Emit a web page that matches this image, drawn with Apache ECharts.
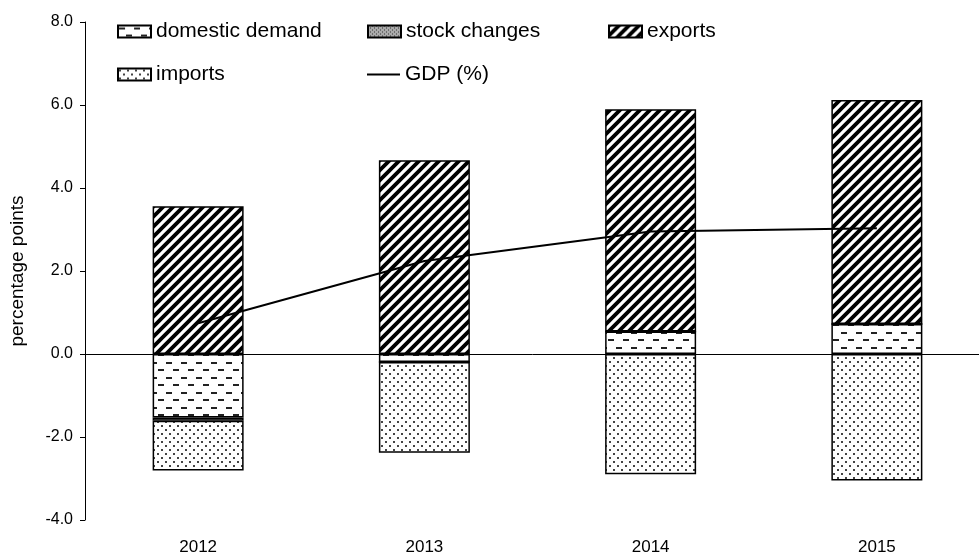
<!DOCTYPE html>
<html>
<head>
<meta charset="utf-8">
<script src="https://cdn.jsdelivr.net/npm/echarts@6/dist/echarts.min.js"></script>
<style>
  html, body { margin: 0; padding: 0; background: #fff; }
  #main { width: 979px; height: 560px; }
</style>
</head>
<body>
<div id="main"></div>
<script>
// 数据
const years = ['2012', '2013', '2014', '2015']
const domesticDemand = [-1.53, -0.19, 0.54, 0.72]
const stockChanges = [-0.08, 0, 0, 0]
const exportsData = [3.56, 4.67, 5.36, 5.40]
const importsData = [-1.20, -2.19, -2.90, -3.05]
const gdp = [0.74, 2.24, 2.95, 3.03]

// 填充纹理
function makePattern(w, h, draw) {
    const c = document.createElement('canvas')
    c.width = w
    c.height = h
    const ctx = c.getContext('2d')
    ctx.fillStyle = '#fff'
    ctx.fillRect(0, 0, w, h)
    draw(ctx, w, h)
    return { image: c, repeat: 'repeat' }
}

// 斜线 (exports)
const stripes = makePattern(10, 10, function (ctx, s) {
    ctx.strokeStyle = '#000'
    ctx.lineWidth = 3.8
    ctx.beginPath()
    ctx.moveTo(-2, 2); ctx.lineTo(2, -2)
    ctx.moveTo(0, s); ctx.lineTo(s, 0)
    ctx.moveTo(s - 2, s + 2); ctx.lineTo(s + 2, s - 2)
    ctx.stroke()
})
// 短横线 (domestic demand)
const dashes = makePattern(15, 15, function (ctx) {
    ctx.fillStyle = '#222'
    ctx.fillRect(1, 2, 6, 2)
    ctx.fillRect(8, 9, 6, 2)
})
// 点 (imports)
const dots = makePattern(8, 8, function (ctx) {
    ctx.fillStyle = '#444'
    ctx.fillRect(1, 1, 2, 2)
    ctx.fillRect(5, 5, 2, 2)
})
// 密点 (stock changes)
const dense = makePattern(4, 4, function (ctx) {
    ctx.fillStyle = '#aaa'
    ctx.fillRect(0, 0, 4, 4)
    ctx.fillStyle = '#333'
    ctx.fillRect(0, 0, 1, 1)
    ctx.fillRect(2, 2, 1, 1)
})

const font = "'Liberation Sans', Arial, sans-serif"
const legendText = { color: '#000', fontSize: 21, fontFamily: font }

function legendAt(name, left, top, h) {
    return {
        data: [name], left: left, top: top,
        icon: 'rect', itemWidth: 33, itemHeight: h || 12, itemGap: 5,
        selectedMode: false, textStyle: legendText
    }
}

function barSeries(name, data, pattern) {
    return {
        name: name, type: 'bar', stack: 'total', data: data,
        barWidth: 91, xAxisIndex: 0,
        itemStyle: { color: pattern, borderColor: '#000', borderWidth: 1.5 },
        emphasis: { disabled: true }
    }
}

let myChart = echarts.init(document.getElementById('main'))
let option = {
    animation: false,
    backgroundColor: '#fff',
    legend: [
        legendAt('domestic demand', 112, 16),
        legendAt('stock changes', 362, 16),
        legendAt('exports', 603, 16),
        legendAt('imports', 112, 59),
        legendAt('GDP (%)', 362, 59, 2)
    ],
    grid: { left: 85, top: 22, width: 905, height: 498, outerBoundsMode: 'none', containLabel: false },
    xAxis: [{
        type: 'category',
        data: years,
        axisLine: { onZero: true, lineStyle: { color: '#000', width: 1 } },
        axisTick: { show: false },
        axisLabel: { show: false }
    }, {
        type: 'category',
        data: years,
        position: 'bottom',
        axisLine: { show: false, onZero: false },
        axisTick: { show: false },
        axisLabel: { color: '#000', fontSize: 17, fontFamily: font, margin: 19 }
    }],
    yAxis: {
        type: 'value',
        min: -4,
        max: 8,
        interval: 2,
        name: 'percentage points',
        nameLocation: 'middle',
        nameGap: 58,
        nameRotate: 90,
        nameTextStyle: { color: '#000', fontSize: 19, fontFamily: font },
        axisLine: { show: true, lineStyle: { color: '#000', width: 1 } },
        axisTick: { show: true, length: 5, lineStyle: { color: '#000' } },
        axisLabel: {
            color: '#000', fontSize: 16, fontFamily: font, margin: 12,
            formatter: function (v) { return v.toFixed(1) }
        },
        splitLine: { show: false }
    },
    series: [
        barSeries('domestic demand', domesticDemand, dashes),
        barSeries('stock changes', stockChanges, dense),
        barSeries('exports', exportsData, stripes),
        barSeries('imports', importsData, dots),
        {
            name: 'GDP (%)', type: 'line', data: gdp, xAxisIndex: 0,
            symbol: 'none', z: 5,
            lineStyle: { color: '#000', width: 2 },
            itemStyle: { color: '#000' }
        }
    ]
}
myChart.setOption(option)
</script>
</body>
</html>
